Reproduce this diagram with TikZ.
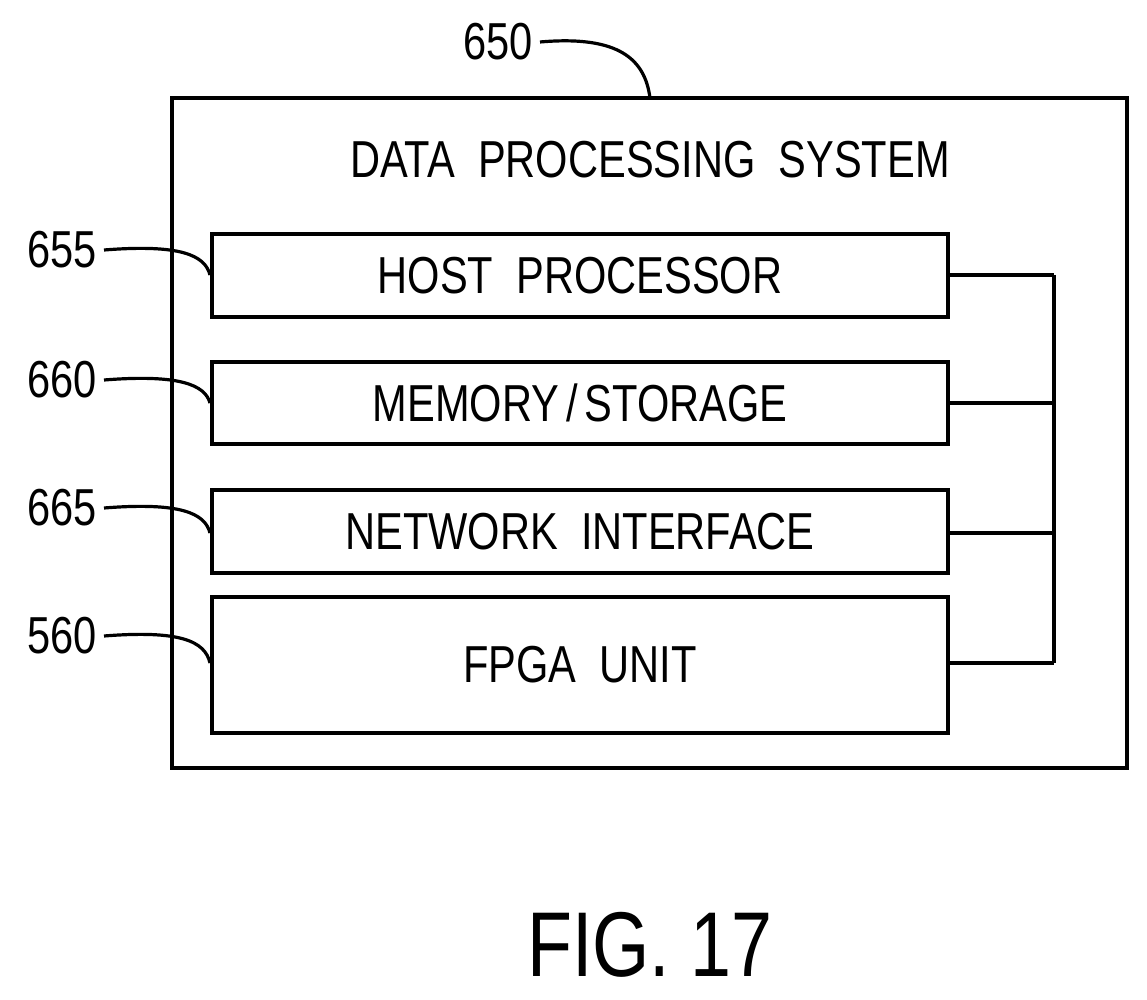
\documentclass[tikz,border=0pt]{standalone}
\usepackage{fontspec}
\setmainfont{Liberation Sans}
\begin{document}
\begin{tikzpicture}[x=0.5pt,y=-0.5pt,line width=2pt,
 box/.style={draw,line width=2pt},
 txt/.style={font=\fontsize{26}{30}\selectfont,xscale=0.8},
 lead/.style={line width=1.6pt}]
\useasboundingbox (0,0) rectangle (1147,1000);
\draw[box] (172,98) rectangle (1127,768);
\node[txt] (title) at (650,160) {DATA\ \ PROCESSING\ \ SYSTEM};
\coordinate (outtop) at (650,98);
\node[box,minimum width=368pt,minimum height=41.5pt,inner sep=0pt] (host) at (580,275.5) {};
\node[box,minimum width=368pt,minimum height=41pt,inner sep=0pt] (mem) at (580,403) {};
\node[box,minimum width=368pt,minimum height=41.5pt,inner sep=0pt] (net) at (580,531.5) {};
\node[box,minimum width=368pt,minimum height=68pt,inner sep=0pt] (fpga) at (580,665) {};
\node[txt] at (host) {HOST\ \ PROCESSOR};
\node[txt] at (mem) {MEMORY\,/\,STORAGE};
\node[txt] at (net) {NETWORK\ \ INTERFACE};
\node[txt] at (fpga) {FPGA\ \ UNIT};
\coordinate (b1) at (1054,275); \coordinate (b2) at (1054,403);
\coordinate (b3) at (1054,533); \coordinate (b4) at (1054,663);
\draw (host.east |- b1) -- (b1);
\draw (mem.east |- b2) -- (b2);
\draw (net.east |- b3) -- (b3);
\draw (fpga.east |- b4) -- (b4);
\draw (b1) -- (b4);
\node[txt,anchor=east] (l650) at (540,42) {650};
\node[txt,anchor=east] (l655) at (104,250) {655};
\node[txt,anchor=east] (l660) at (104,380) {660};
\node[txt,anchor=east] (l665) at (104,508) {665};
\node[txt,anchor=east] (l560) at (104,636) {560};
\draw[lead] (l650.east) .. controls (620,35) and (645,60) .. (outtop);
\draw[lead] (l655.east) .. controls (180,244) and (205,255) .. (host.west |- 0,275);
\draw[lead] (l660.east) .. controls (180,374) and (205,385) .. (mem.west |- 0,403);
\draw[lead] (l665.east) .. controls (180,502) and (205,513) .. (net.west |- 0,533);
\draw[lead] (l560.east) .. controls (180,630) and (205,641) .. (fpga.west |- 0,663);
\node[font=\fontsize{46}{50}\selectfont,xscale=0.8] (fig) at (650,945) {FIG.\ 17};
\end{tikzpicture}
\end{document}
